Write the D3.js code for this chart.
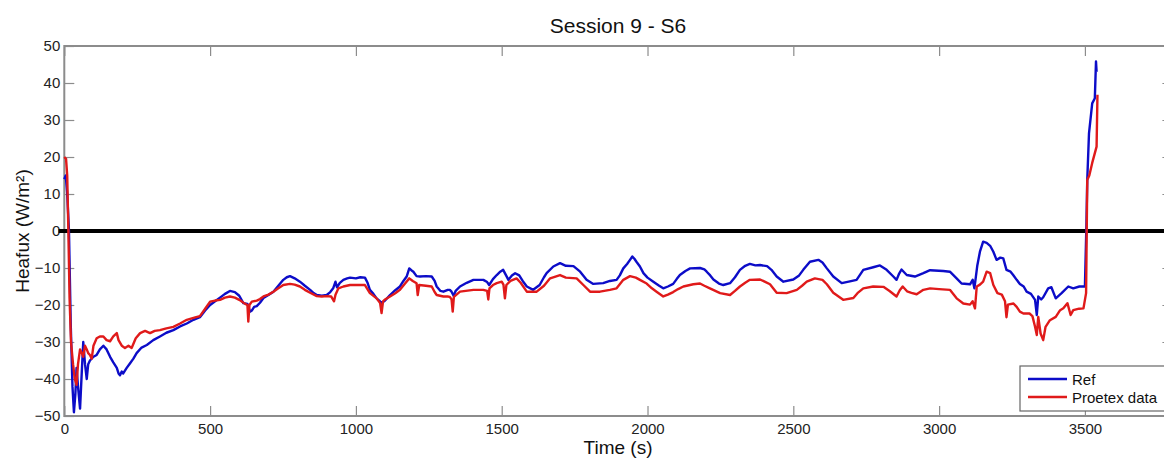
<!DOCTYPE html>
<html>
<head>
<meta charset="utf-8">
<script src="https://cdn.jsdelivr.net/npm/d3@7"></script>
<style>
  html, body { margin: 0; padding: 0; background: #fff; }
  svg { display: block; }
  text { font-family: "Liberation Sans", Arial, Helvetica, sans-serif; }
</style>
</head>
<body>
<div id="chart"></div>
<script>
// ---- Data ----
const titleText = "Session 9 - S6";
const xLabel = "Time (s)";
const yLabel = "Heafux (W/m²)";
const seriesNames = ["Ref", "Proetex data"];
const xTicks = [0, 500, 1000, 1500, 2000, 2500, 3000, 3500];
const yTicks = [-50, -40, -30, -20, -10, 0, 10, 20, 30, 40, 50];

const refTime = [0,5,10,16,22,28,33,38,42,47,54,60,65,71,77,82,88,100,111,122,134,145,157,168,180,186,191,197,202,214,225,237,248,265,283,305,328,350,374,397,420,443,465,483,500,517,534,551,568,585,600,614,628,637,643,651,660,671,683,700,717,734,751,763,774,790,808,825,843,855,866,883,900,912,922,930,935,945,957,970,980,1000,1015,1031,1040,1048,1060,1071,1080,1088,1100,1117,1135,1151,1163,1174,1183,1190,1197,1208,1220,1240,1260,1270,1277,1290,1300,1315,1322,1328,1335,1342,1357,1380,1403,1437,1450,1457,1470,1483,1495,1505,1515,1523,1535,1546,1560,1572,1586,1608,1630,1645,1654,1677,1700,1720,1746,1769,1791,1814,1848,1871,1894,1905,1917,1930,1940,1948,1955,1962,1974,1986,2000,2020,2040,2054,2070,2088,2100,2111,2130,2146,2180,2195,2203,2215,2226,2245,2260,2283,2300,2317,2335,2351,2370,2386,2410,2425,2443,2466,2500,2520,2534,2557,2586,2600,2615,2637,2666,2694,2717,2740,2774,2797,2820,2843,2854,2863,2871,2889,2917,2946,2969,3014,3037,3060,3077,3106,3115,3121,3131,3140,3151,3163,3175,3186,3197,3210,3220,3231,3245,3254,3266,3277,3290,3300,3315,3329,3335,3340,3350,3357,3374,3385,3400,3420,3443,3460,3481,3500,3505,3508,3514,3525,3534,3538,3540];
const refValues = [14,15,10,0,-25,-42,-49,-44,-37,-42,-48,-38,-30,-36,-40,-36,-35,-34,-33.5,-32,-31,-32,-34,-35.5,-37,-38.5,-39,-38,-38.5,-37,-35.8,-34.5,-33,-31.5,-30.8,-29.5,-28.5,-27.5,-26.8,-25.8,-25,-24,-23.3,-21.5,-20,-19,-18,-17,-16.2,-16.5,-17.5,-19.5,-19.7,-21.8,-21.5,-20.5,-20.3,-19.4,-18.1,-17.3,-16.4,-14.8,-13.2,-12.5,-12.2,-12.8,-13.7,-14.8,-15.9,-16.8,-17.3,-17.5,-17.3,-16.5,-15.5,-13.7,-15.2,-14,-13.2,-12.8,-12.6,-12.8,-12.5,-12.6,-14,-15.9,-17,-18.2,-18.8,-19.5,-18.8,-17.3,-16,-15,-13.5,-12.3,-10.1,-10.6,-11,-12.2,-12.3,-12.2,-12.3,-13.5,-15,-16.2,-16.4,-15.9,-15.9,-16.4,-17.5,-16.2,-15,-14,-13.2,-13.2,-13.8,-14.6,-13,-11.9,-11,-10.5,-12,-13.2,-12,-11.4,-12,-13.5,-15,-15.9,-14.6,-12.5,-11.4,-9.6,-8.7,-9.4,-9.5,-11,-13.2,-14.3,-14.1,-13.5,-13.2,-12,-10.1,-8.9,-7.8,-6.9,-7.5,-8.3,-9.6,-11.4,-12.6,-13.7,-14.8,-15.5,-15,-14.3,-13,-11.9,-10.8,-10.1,-10,-10.4,-11,-12,-13.1,-14.2,-14.6,-14.1,-12.5,-10.5,-9.4,-8.9,-9.3,-9.2,-9.5,-10.5,-12.3,-13.7,-13.1,-12,-10.5,-8.3,-7.8,-8.5,-10.1,-12.3,-14.1,-13.6,-13.2,-10.5,-9.8,-9.3,-10.5,-12.3,-13.2,-11.5,-10.4,-11.9,-12.3,-11.4,-10.6,-10.8,-11,-12.8,-14.2,-14.4,-13.2,-15.5,-9.3,-5.6,-2.9,-3.2,-4,-5.6,-7.8,-7.2,-7.4,-10.5,-11,-11.9,-13.2,-14.3,-15,-16.4,-17,-18.6,-22.7,-17.7,-18.5,-17.9,-15.5,-15.2,-18.2,-16.8,-15,-15.5,-15,-15,1.2,13.8,26.4,34.5,35.9,45.8,43];

const proTime = [0,6,10,14,18,23,30,36,42,47,54,60,65,71,77,82,88,94,100,111,122,134,145,157,168,180,186,197,208,220,231,245,260,277,294,310,328,350,374,397,420,443,465,483,500,517,534,551,568,585,600,620,628,631,635,643,660,671,683,700,717,734,751,774,790,808,825,843,866,883,900,915,925,930,940,957,980,1000,1031,1048,1071,1083,1088,1093,1100,1117,1135,1151,1165,1183,1195,1208,1212,1217,1240,1260,1270,1277,1300,1315,1322,1328,1332,1336,1357,1403,1437,1450,1454,1458,1470,1483,1500,1506,1511,1516,1530,1551,1565,1586,1620,1645,1666,1700,1720,1757,1780,1803,1837,1871,1894,1917,1940,1960,1974,1997,2015,2031,2054,2070,2088,2105,2123,2157,2180,2195,2214,2249,2283,2300,2317,2335,2351,2386,2400,2420,2443,2477,2512,2530,2546,2574,2600,2615,2637,2671,2706,2720,2740,2774,2809,2830,2854,2865,2875,2890,2905,2923,2946,2969,3000,3037,3060,3083,3106,3115,3123,3129,3140,3151,3163,3175,3186,3200,3215,3226,3231,3236,3255,3266,3277,3289,3310,3320,3329,3335,3340,3348,3357,3365,3380,3400,3415,3426,3440,3451,3460,3480,3495,3504,3508,3515,3525,3540,3543];
const proValues = [20,19.5,15,0,-18,-30,-36,-40,-41.6,-36,-32,-33,-34,-31,-32,-33,-33.5,-34.5,-31,-29,-28.5,-28.5,-29.5,-29.8,-28.5,-27.6,-29.5,-31,-31.6,-31,-31.6,-29,-27.6,-27,-27.6,-27,-26.8,-26.3,-25.9,-25,-24,-23.5,-23,-21,-19.1,-18.8,-18.6,-18,-17.7,-18,-18.6,-19.7,-20,-24.5,-20,-19.1,-18.8,-18.4,-17.7,-17.2,-16.4,-15.5,-14.6,-14.3,-14.5,-15,-15.9,-16.7,-17.6,-17.7,-17.6,-17.7,-19,-17.2,-15.5,-15,-14.6,-14.6,-14.6,-16.8,-18.2,-19.5,-22.2,-19,-18.5,-17.7,-16.8,-15.9,-14.5,-12.8,-13.5,-14.1,-17.3,-14.6,-14.8,-15,-16.5,-17.3,-17.7,-17.7,-17.8,-18.5,-21.8,-17.8,-16.4,-15.9,-15.9,-16.2,-18.5,-15.5,-14.6,-14.1,-13.7,-14.5,-18.2,-14.6,-13.5,-12.8,-14,-16.4,-16.4,-14.8,-12.8,-11.9,-12.6,-12.8,-14.6,-16.4,-16.4,-15.9,-15.5,-13.2,-12.2,-12.6,-13.2,-14.2,-15.5,-16.4,-17.7,-17.2,-16.5,-15.7,-15,-14.4,-14.2,-14.8,-15.5,-16.8,-17.3,-16.2,-15,-14,-13.2,-13.1,-13.6,-14.4,-16.7,-16.8,-15.9,-14.8,-13.7,-12.8,-13.2,-14.4,-16.7,-18.6,-18.1,-16.8,-15.5,-15,-15.1,-16.2,-17.7,-16,-15,-16.3,-16.7,-17.1,-15.9,-15.5,-15.7,-15.9,-18.2,-19.6,-19.9,-19,-20.9,-15,-14.5,-13.7,-11,-11.4,-14.6,-16.8,-17.2,-19,-23.3,-19.9,-19.6,-20.5,-21.8,-22.3,-22.3,-23,-25.9,-28.1,-23.2,-27.7,-29.5,-25.9,-24.1,-23.2,-21.4,-20.9,-19.5,-22.7,-21.4,-21,-20.9,-16.8,13.8,15,18.4,22.8,36.8];

const colors = ["#0c0cc8", "#e01a1a"];

// ---- Layout ----
const W = 1164, H = 460;
const svg = d3.select("#chart").append("svg").attr("width", W).attr("height", H);

const x = d3.scaleLinear().domain([0, 3800]).range([64.3, 1172.4]);
const y = d3.scaleLinear().domain([-50, 50]).range([416, 46]);

const axisColor = "#8c8c8c";

// frame (box)
svg.append("rect")
  .attr("x", x(0)).attr("y", y(50))
  .attr("width", x(3800) - x(0)).attr("height", y(-50) - y(50))
  .attr("fill", "#fff").attr("stroke", axisColor).attr("stroke-width", 2);

function styleAxis(g, showText) {
  g.select(".domain").remove();
  g.selectAll(".tick line").attr("stroke", axisColor).attr("stroke-width", 1.2);
  g.selectAll(".tick text").attr("fill", "#222").style("font-size", "15px")
    .style("font-family", "'Liberation Sans', Arial, Helvetica, sans-serif");
  if (!showText) g.selectAll(".tick text").remove();
}

svg.append("g").attr("transform", `translate(0,${y(-50)})`)
  .call(d3.axisBottom(x).tickValues(xTicks).tickSizeInner(-10).tickSizeOuter(0).tickPadding(7).tickFormat(d3.format("d")))
  .call(g => styleAxis(g, true));
svg.append("g").attr("transform", `translate(0,${y(50)})`)
  .call(d3.axisTop(x).tickValues(xTicks).tickSizeInner(-10).tickSizeOuter(0))
  .call(g => styleAxis(g, false));
svg.append("g").attr("transform", `translate(${x(0)},0)`)
  .call(d3.axisLeft(y).tickValues(yTicks).tickSizeInner(-10).tickSizeOuter(0).tickPadding(4).tickFormat(d3.format("d")))
  .call(g => styleAxis(g, true));
svg.append("g").attr("transform", `translate(${x(3800)},0)`)
  .call(d3.axisRight(y).tickValues(yTicks).tickSizeInner(-10).tickSizeOuter(0))
  .call(g => styleAxis(g, false));

// zero line
svg.append("line")
  .attr("x1", x(-20)).attr("x2", x(3800))
  .attr("y1", y(0)).attr("y2", y(0))
  .attr("stroke", "#000").attr("stroke-width", 4);

// series
const line = d3.line().x(d => x(d[0])).y(d => y(d[1]));
const refData = refTime.map((t, i) => [t, refValues[i]]);
const proData = proTime.map((t, i) => [t, proValues[i]]);

svg.append("path").datum(refData).attr("d", line)
  .attr("fill", "none").attr("stroke", colors[0]).attr("stroke-width", 2.4).attr("stroke-linejoin", "round");
svg.append("path").datum(proData).attr("d", line)
  .attr("fill", "none").attr("stroke", colors[1]).attr("stroke-width", 2.4).attr("stroke-linejoin", "round");

// title & labels
svg.append("text").attr("x", 618).attr("y", 33).attr("text-anchor", "middle")
  .attr("fill", "#111").style("font-size", "21px").text(titleText);
svg.append("text").attr("x", 618).attr("y", 454).attr("text-anchor", "middle")
  .attr("fill", "#111").style("font-size", "19px").text(xLabel);
svg.append("text").attr("transform", `translate(29,${y(0)}) rotate(-90)`).attr("text-anchor", "middle")
  .attr("fill", "#111").style("font-size", "19px").text(yLabel);

// legend
const lg = svg.append("g");
lg.append("rect").attr("x", 1020).attr("y", 366).attr("width", 170).attr("height", 45)
  .attr("fill", "#fff").attr("stroke", "#666").attr("stroke-width", 1.2);
seriesNames.forEach((name, i) => {
  const yy = 379 + i * 18;
  lg.append("line").attr("x1", 1028).attr("x2", 1067).attr("y1", yy).attr("y2", yy)
    .attr("stroke", colors[i]).attr("stroke-width", 2.6);
  lg.append("text").attr("x", 1072).attr("y", yy + 5.5).attr("fill", "#111")
    .style("font-size", "15px").text(name);
});
</script>
</body>
</html>
